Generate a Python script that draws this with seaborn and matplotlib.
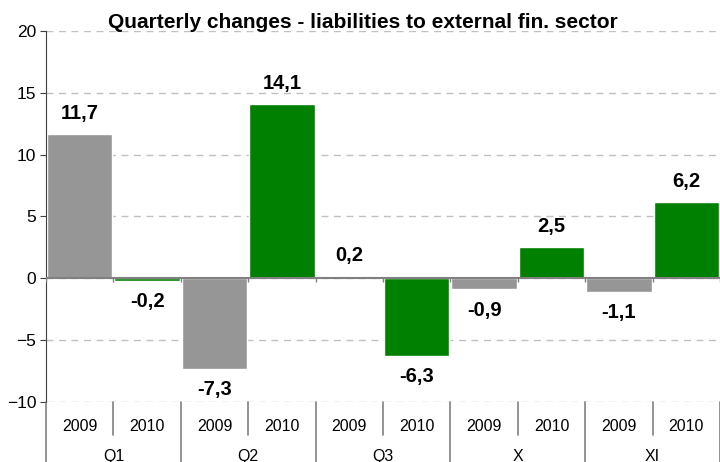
import pandas as pd
import matplotlib
matplotlib.use('Agg')
import matplotlib.pyplot as plt
import seaborn as sns
from matplotlib.transforms import blended_transform_factory

# Data
periods = ['Q1', 'Q2', 'Q3', 'X', 'XI']
years = ['2009', '2010']
values_2009 = [11.7, -7.3, 0.2, -0.9, -1.1]
values_2010 = [-0.2, 14.1, -6.3, 2.5, 6.2]
title = 'Quarterly changes - liabilities to external fin. sector'

rows = []
for p, v09, v10 in zip(periods, values_2009, values_2010):
    rows.append({'slot': f'{p} 2009', 'period': p, 'year': '2009', 'value': v09})
    rows.append({'slot': f'{p} 2010', 'period': p, 'year': '2010', 'value': v10})
df = pd.DataFrame(rows)

sns.set_style('white')
plt.rcParams['font.family'] = ['Liberation Sans', 'DejaVu Sans']
plt.rcParams['text.color'] = 'black'
plt.rcParams['xtick.color'] = 'black'
plt.rcParams['ytick.color'] = 'black'

fig = plt.figure(figsize=(7.2, 4.62), dpi=100)
ax = fig.add_axes([46 / 720, 1 - 402 / 462, 1 - 46 / 720, 371 / 462])

sns.barplot(data=df, x='slot', y='value', hue='year', order=df['slot'],
            palette={'2009': '#969696', '2010': '#008000'}, dodge=False,
            saturation=1, width=0.97, legend=False, ax=ax)

for cont in ax.containers:
    ax.bar_label(cont, fmt=lambda v: f'{v:.1f}'.replace('.', ','),
                 padding=8, fontsize=14.5, fontweight='bold', color='black')

n = len(df)
ax.set_xlim(-0.5, n - 0.5)
ax.set_ylim(-10, 20)
ax.set_yticks(range(-10, 21, 5))
ax.yaxis.grid(True, linestyle=(0, (5, 4)), color='#c0c0c0', linewidth=1)
ax.set_axisbelow(True)
ax.axhline(0, color='#808080', linewidth=1.5, zorder=3)
ax.vlines([i - 0.5 for i in range(n + 1)], -0.3, 0, color='#808080',
          linewidth=1, zorder=3)

for s in ['top', 'right', 'bottom']:
    ax.spines[s].set_visible(False)
ax.spines['left'].set_color('#404040')
ax.tick_params(axis='y', left=True, length=4, color='#404040',
               labelsize=12.5, pad=3)

ax.set_xticks(range(n))
ax.set_xticklabels(df['year'], fontsize=11.5)
ax.tick_params(axis='x', length=0, pad=12)
ax.set_xlabel('')
ax.set_ylabel('')

# second-level category axis: separators and period labels
trans = blended_transform_factory(ax.transData, ax.transAxes)
for i in range(n + 1):
    bottom = -0.17 if i % 2 == 0 else -0.089
    ax.plot([i - 0.5, i - 0.5], [0, bottom], color='#808080', linewidth=1.2,
            transform=trans, clip_on=False)
for k, p in enumerate(periods):
    ax.text(2 * k + 0.5, -0.148, p, transform=trans, ha='center', va='center',
            fontsize=11.5)

fig.text(0.504, 1 - 28 / 462, title, ha='center', va='baseline',
         fontsize=15, fontweight='bold')

fig.savefig('out.png', dpi=100)
